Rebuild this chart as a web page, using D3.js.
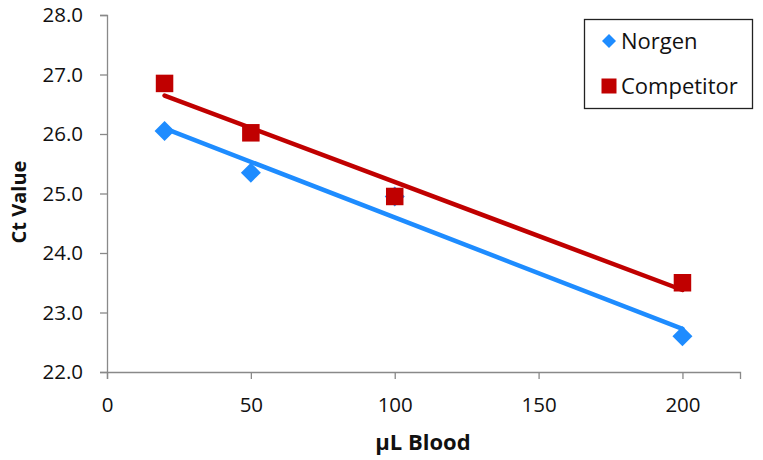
<!DOCTYPE html>
<html><head><meta charset="utf-8">
<script src="https://cdn.jsdelivr.net/npm/d3@7"></script>
<style>body{margin:0;background:#fff;}text{font-family:"Open Sans","Noto Sans",sans-serif;}</style>
</head><body><svg id="c" width="763" height="460"></svg>
<script>
const xValues = [20, 50, 100, 200];
const norgen = [26.05, 25.35, 24.95, 22.6];
const competitor = [26.85, 26.02, 24.95, 23.5];
const yTicks = [22, 23, 24, 25, 26, 27, 28];
const xTicks = [0, 50, 100, 150, 200];
const seriesNames = ["Norgen", "Competitor"];
const colors = ["#1E8CFF", "#C00000"];

const svg = d3.select("#c");
const x = d3.scaleLinear().domain([0, 220]).range([107, 740]);
const y = d3.scaleLinear().domain([22, 28]).range([372, 15]);
const axisColor = "#898989";

const gx = svg.append("g").attr("transform", "translate(0,372)")
  .call(d3.axisBottom(x).tickValues(xTicks).tickSize(7).tickPadding(18).tickFormat(d3.format("d")));
const gy = svg.append("g").attr("transform", "translate(107,0)")
  .call(d3.axisLeft(y).tickValues(yTicks).tickSize(7).tickPadding(17).tickFormat(d3.format(".1f")));
[gx, gy].forEach(g => {
  g.attr("font-size", null).attr("font-family", null);
  g.select(".domain").attr("stroke", axisColor).attr("stroke-width", 1.3);
  g.selectAll(".tick line").attr("stroke", axisColor).attr("stroke-width", 1.3);
  g.selectAll(".tick text").attr("fill", "#111").attr("font-size", 20.5).style("font-size", "20.5px").style("font-family", "'Open Sans',sans-serif");
});

svg.append("text").attr("x", 423).attr("y", 450).attr("text-anchor", "middle")
  .style("font-size", "22px").style("font-weight", "bold").attr("fill", "#111").text("μL Blood");
svg.append("text").attr("transform", "translate(26,202) rotate(-90)").attr("text-anchor", "middle")
  .style("font-size", "20px").style("font-weight", "bold").attr("fill", "#111").text("Ct Value");

function regression(xs, ys) {
  const mx = d3.mean(xs), my = d3.mean(ys);
  let sxy = 0, sxx = 0;
  xs.forEach((v, i) => { sxy += (v - mx) * (ys[i] - my); sxx += (v - mx) * (v - mx); });
  const b = sxy / sxx, a = my - b * mx;
  return v => a + b * v;
}

const data = [norgen, competitor];
data.forEach((ys, s) => {
  const f = regression(xValues, ys);
  const x0 = d3.min(xValues), x1 = d3.max(xValues);
  svg.append("line").attr("x1", x(x0)).attr("y1", y(f(x0))).attr("x2", x(x1)).attr("y2", y(f(x1)))
    .attr("stroke", colors[s]).attr("stroke-width", 4.5).attr("stroke-linecap", "round");
});
const diamond = (cx, cy, r) => `M${cx},${cy - r}L${cx + r},${cy}L${cx},${cy + r}L${cx - r},${cy}Z`;
xValues.forEach((xv, i) => {
  svg.append("path").attr("d", diamond(x(xv), y(norgen[i]), 10)).attr("fill", colors[0]);
});
xValues.forEach((xv, i) => {
  svg.append("rect").attr("x", x(xv) - 8.75).attr("y", y(competitor[i]) - 8.75)
    .attr("width", 17.5).attr("height", 17.5).attr("fill", colors[1]);
});

const lg = svg.append("g");
lg.append("rect").attr("x", 584.5).attr("y", 19.5).attr("width", 168).attr("height", 89)
  .attr("fill", "#fff").attr("stroke", "#222").attr("stroke-width", 1.3);
seriesNames.forEach((n, i) => {
  const cy = 41 + i * 45;
  if (i === 0) lg.append("path").attr("d", diamond(609, cy, 7)).attr("fill", colors[0]);
  else lg.append("rect").attr("x", 601.5).attr("y", cy - 7.5).attr("width", 15).attr("height", 15).attr("fill", colors[1]);
  lg.append("text").attr("x", 621).attr("y", cy).attr("dy", "0.36em")
    .style("font-size", "22px").attr("fill", "#111").text(n);
});
</script></body></html>
